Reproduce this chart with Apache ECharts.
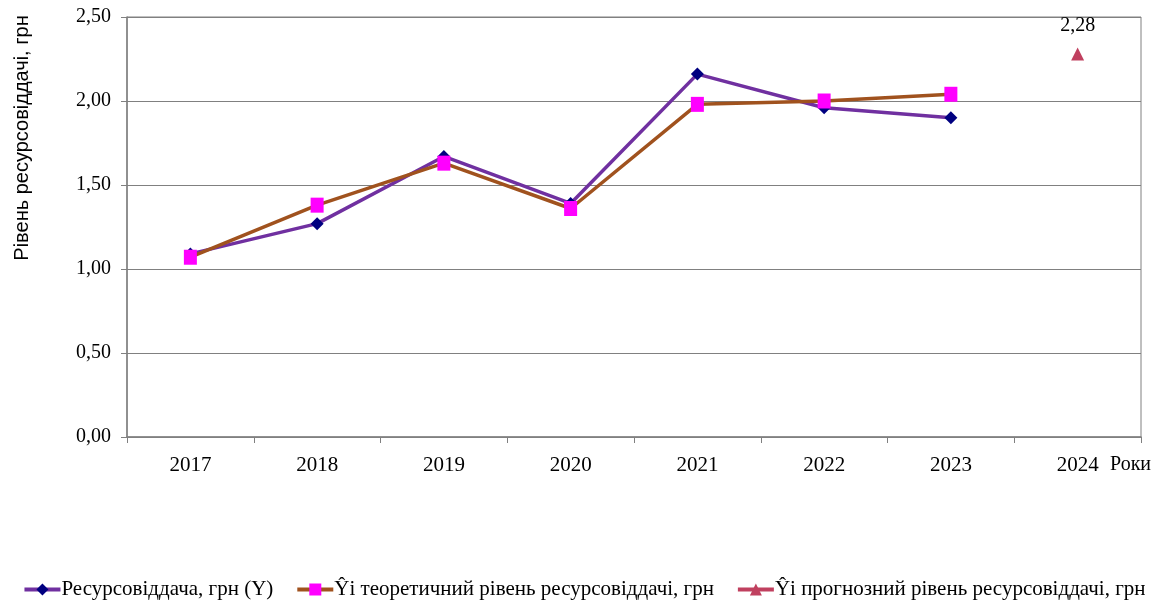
<!DOCTYPE html>
<html>
<head>
<meta charset="utf-8">
<script src="https://cdn.jsdelivr.net/npm/echarts@6/dist/echarts.min.js"></script>
<style>
html,body{margin:0;padding:0;background:#fff;}
#chart{width:1168px;height:603px;}
</style>
</head>
<body>
<div id="chart"></div>
<script>
var years = ['2017','2018','2019','2020','2021','2022','2023','2024'];
var actual = [1.09, 1.27, 1.67, 1.39, 2.16, 1.96, 1.90, null];
var theoretical = [1.07, 1.38, 1.63, 1.36, 1.98, 2.00, 2.04, null];
var forecast = [null, null, null, null, null, null, null, 2.28];
var seriesNames = ['Ресурсовіддача, грн (Y)', 'Ŷі теоретичний рівень ресурсовіддачі, грн', 'Ŷі прогнозний рівень ресурсовіддачі, грн'];
var yAxisTitle = 'Рівень ресурсовіддачі, грн';
var xAxisTitle = 'Роки';

var serif = '"Liberation Serif", "Times New Roman", serif';
var fmt = function (v) { return v.toFixed(2).replace('.', ','); };

var chart = echarts.init(document.getElementById('chart'), null, {renderer: 'canvas'});
chart.setOption({
  backgroundColor: '#ffffff',
  animation: false,
  grid: {left: 127, top: 17, width: 1014, height: 420, show: true, borderColor: '#808080', borderWidth: 1, containLabel: false},
  xAxis: {
    type: 'category',
    data: years,
    boundaryGap: true,
    axisLine: {lineStyle: {color: '#808080', width: 1.5}},
    axisTick: {show: true, length: 6, lineStyle: {color: '#808080'}},
    axisLabel: {color: '#000', fontFamily: serif, fontSize: 21, margin: 18}
  },
  yAxis: {
    type: 'value',
    min: 0, max: 2.5, interval: 0.5,
    axisLine: {show: true, lineStyle: {color: '#808080', width: 1.5}},
    axisTick: {show: true, length: 6, lineStyle: {color: '#808080'}},
    axisLabel: {color: '#000', fontFamily: serif, fontSize: 20, margin: 16, formatter: fmt},
    splitLine: {lineStyle: {color: '#808080', width: 1}}
  },
  legend: {
    top: 574,
    left: 'center',
    itemGap: 22,
    itemWidth: 36,
    itemHeight: 15,
    textStyle: {color: '#000', fontFamily: serif, fontSize: 21, padding: [0, 0, 0, -4]},
    lineStyle: {width: 4},
    data: seriesNames
  },
  graphic: [
    {type: 'text', left: 1110, top: 455, style: {text: xAxisTitle, fill: '#000', font: '20px ' + serif}},
    {type: 'text', x: 22, y: 138, rotation: Math.PI / 2, style: {text: yAxisTitle, fill: '#000', font: '20px "Liberation Sans", Arial, sans-serif', align: 'center', verticalAlign: 'middle'}}
  ],
  series: [
    {
      name: seriesNames[0], type: 'line', data: actual,
      symbol: 'diamond', symbolSize: 13, showAllSymbol: true,
      lineStyle: {color: '#7030a0', width: 3.5},
      itemStyle: {color: '#000080'},
      z: 2
    },
    {
      name: seriesNames[1], type: 'line', data: theoretical,
      symbol: 'rect', symbolSize: [13, 15], showAllSymbol: true,
      lineStyle: {color: '#a0521e', width: 3.5},
      itemStyle: {color: '#ff00ff'},
      z: 3
    },
    {
      name: seriesNames[2], type: 'line', data: forecast,
      symbol: 'triangle', symbolSize: 13,
      lineStyle: {color: '#c0405f', width: 2},
      itemStyle: {color: '#c0405f'},
      label: {show: true, position: 'top', distance: 12, color: '#000', fontFamily: serif, fontSize: 20, formatter: function (p) { return fmt(p.value); }},
      z: 4
    }
  ]
});
</script>
</body>
</html>
